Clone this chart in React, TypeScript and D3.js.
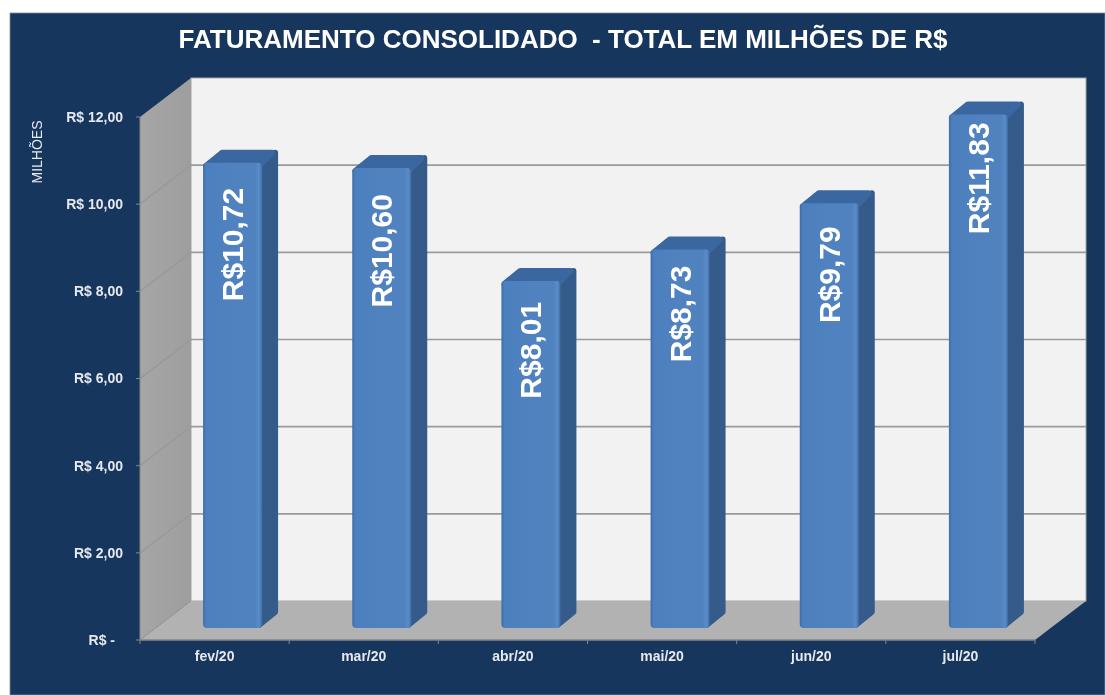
import React, { useEffect, useRef } from 'react';
import * as d3 from 'd3';

const months = ['fev/20', 'mar/20', 'abr/20', 'mai/20', 'jun/20', 'jul/20'];
const values = [10.72, 10.6, 8.01, 8.73, 9.79, 11.83];
const valueLabels = ['R$10,72', 'R$10,60', 'R$8,01', 'R$8,73', 'R$9,79', 'R$11,83'];
const tickValues = [0, 2, 4, 6, 8, 10, 12];
const tickLabels = ['R$ -', 'R$ 2,00', 'R$ 4,00', 'R$ 6,00', 'R$ 8,00', 'R$ 10,00', 'R$ 12,00'];
// the data labels were dragged by hand in the original, gap from top of bar
const labelGaps = [25, 26, 21, 16, 23, 8];

const FONT = '"Liberation Sans", Arial, sans-serif';

const App = () => {
  const ref = useRef<SVGSVGElement>(null);

  useEffect(() => {
    const svg = d3.select(ref.current);
    svg.selectAll('*').remove();

    const width = 1105;
    const height = 695;
    const left = 140;
    const right = 1035;
    const bottom = 640;
    const top = 117;
    const depthX = 51;
    const depthY = 39;

    const x = d3.scaleBand().domain(months).range([left, right]);
    const y = d3.scaleLinear().domain([0, 12]).range([bottom, top]);

    const barW = 59;
    const barDx = 18; // bars stand a bit back from the front edge of floor
    const barDy = 12;
    const topInset = 2;
    const sideX = 16;
    const sideY = 13;

    const defs = svg.append('defs');
    const grad = defs.append('linearGradient').attr('id', 'barFront');
    [
      [0, '#3d6ca6'],
      [0.05, '#4c7fbd'],
      [0.5, '#5082c0'],
      [0.88, '#5082c0'],
      [0.95, '#5a8cc8'],
      [1, '#3f6ea6'],
    ].forEach(([o, c]) => grad.append('stop').attr('offset', o).attr('stop-color', c));

    const wallGrad = defs.append('linearGradient').attr('id', 'sideWall');
    wallGrad.append('stop').attr('offset', 0).attr('stop-color', '#a6a6a6');
    wallGrad.append('stop').attr('offset', 1).attr('stop-color', '#9e9e9e');

    svg.append('rect')
      .attr('x', 10).attr('y', 13)
      .attr('width', width - 10).attr('height', height - 13)
      .attr('fill', '#17365d')
      .attr('stroke', '#7f8a99')
      .attr('stroke-width', 0.8);

    // back wall
    svg.append('rect')
      .attr('x', left + depthX).attr('y', top - depthY)
      .attr('width', right - left)
      .attr('height', bottom - top)
      .attr('fill', '#f2f2f2')
      .attr('stroke', '#a6a6a6');

    // side wall
    const poly = (pts: [number, number][]) => d3.line()(pts) + 'Z';
    svg.append('path')
      .attr('d', poly([
        [left, bottom], [left, top],
        [left + depthX, top - depthY], [left + depthX, bottom - depthY],
      ]))
      .attr('fill', 'url(#sideWall)');

    // floor
    svg.append('path')
      .attr('d', poly([
        [left, bottom], [left + depthX, bottom - depthY],
        [right + depthX, bottom - depthY], [right, bottom],
      ]))
      .attr('fill', '#b2b2b2');

    // gridlines, over side wall and back wall
    tickValues.filter(d => d > 0 && d < 12).forEach(d => {
      svg.append('path')
        .attr('d', d3.line()([
          [left, y(d)],
          [left + depthX, y(d) - depthY],
          [right + depthX, y(d) - depthY],
        ]))
        .attr('fill', 'none')
        .attr('stroke', '#9a9a9a')
        .attr('stroke-width', 1.6);
    });

    // axis lines and ticks
    svg.append('line')
      .attr('x1', left).attr('x2', right)
      .attr('y1', bottom).attr('y2', bottom)
      .attr('stroke', '#868686').attr('stroke-width', 1.5);
    svg.append('line')
      .attr('x1', left).attr('x2', left)
      .attr('y1', top).attr('y2', bottom)
      .attr('stroke', '#868686').attr('stroke-width', 1);

    tickValues.forEach((d, i) => {
      svg.append('line')
        .attr('x1', left - 4).attr('x2', left)
        .attr('y1', y(d)).attr('y2', y(d))
        .attr('stroke', '#868686');
      svg.append('text')
        .attr('x', d === 0 ? left - 25 : left - 17)
        .attr('y', y(d))
        .attr('dy', '0.35em')
        .attr('text-anchor', 'end')
        .attr('font-family', FONT)
        .attr('font-weight', 'bold')
        .attr('font-size', 14)
        .attr('fill', '#e6e9ee')
        .text(tickLabels[i]);
    });

    [...months.map(m => x(m)!), right].forEach(t => {
      svg.append('line')
        .attr('x1', t).attr('x2', t)
        .attr('y1', bottom).attr('y2', bottom + 4)
        .attr('stroke', '#868686');
    });

    months.forEach(m => {
      svg.append('text')
        .attr('x', x(m)! + x.bandwidth() / 2)
        .attr('y', bottom + 16)
        .attr('dy', '0.35em')
        .attr('text-anchor', 'middle')
        .attr('font-family', FONT)
        .attr('font-weight', 'bold')
        .attr('font-size', 14)
        .attr('fill', '#e6e9ee')
        .text(m);
    });

    // bars
    months.forEach((m, i) => {
      const x0 = x(m)! + x.bandwidth() / 2 + barDx - barW / 2;
      const x1 = x0 + barW;
      const y0 = y(0) - barDy;
      const yTop = y(values[i]) - barDy + topInset;
      const r = 3; // half the stroke, rounds the corners of the 3d faces

      svg.append('path')
        .attr('d', poly([
          [x1 - r, y0 - r], [x1 + sideX - r, y0 - sideY - r],
          [x1 + sideX - r, yTop - sideY + r], [x1 - r, yTop + r],
        ]))
        .attr('fill', '#355b8b')
        .attr('stroke', '#355b8b')
        .attr('stroke-width', r * 2)
        .attr('stroke-linejoin', 'round');

      svg.append('path')
        .attr('d', poly([
          [x0 + r, yTop + r], [x0 + sideX + r, yTop - sideY + r],
          [x1 + sideX - r - 3, yTop - sideY + r], [x1 - r, yTop + r],
        ]))
        .attr('fill', '#3a67a0')
        .attr('stroke', '#3a67a0')
        .attr('stroke-width', r * 2)
        .attr('stroke-linejoin', 'round');

      svg.append('rect')
        .attr('x', x0).attr('y', yTop)
        .attr('width', barW).attr('height', y0 - yTop)
        .attr('rx', 4)
        .attr('fill', 'url(#barFront)');

      const cx = x0 + barW / 2;
      const ly = yTop + labelGaps[i];
      svg.append('text')
        .attr('transform', `translate(${cx},${ly}) rotate(-90)`)
        .attr('dy', '0.35em')
        .attr('text-anchor', 'end')
        .attr('font-family', FONT)
        .attr('font-weight', 'bold')
        .attr('font-size', 30)
        .attr('fill', '#ffffff')
        .text(valueLabels[i]);
    });

    svg.append('text')
      .attr('x', 563)
      .attr('y', 39)
      .attr('dy', '0.35em')
      .attr('text-anchor', 'middle')
      .attr('font-family', FONT)
      .attr('font-weight', 'bold')
      .attr('font-size', 26)
      .attr('fill', '#ffffff')
      .text('FATURAMENTO CONSOLIDADO  - TOTAL EM MILHÕES DE R$')
      .style('white-space', 'pre');

    svg.append('text')
      .attr('transform', 'translate(37,152) rotate(-90)')
      .attr('dy', '0.35em')
      .attr('text-anchor', 'middle')
      .attr('font-family', FONT)
      .attr('font-size', 14)
      .attr('fill', '#e6e9ee')
      .text('MILHÕES');
  }, []);

  return (
    <svg
      ref={ref}
      width={1105}
      height={695}
      style={{ position: 'absolute', left: 0, top: 0, background: '#fff', filter: 'blur(0.4px)' }}
    />
  );
};

export default App;
